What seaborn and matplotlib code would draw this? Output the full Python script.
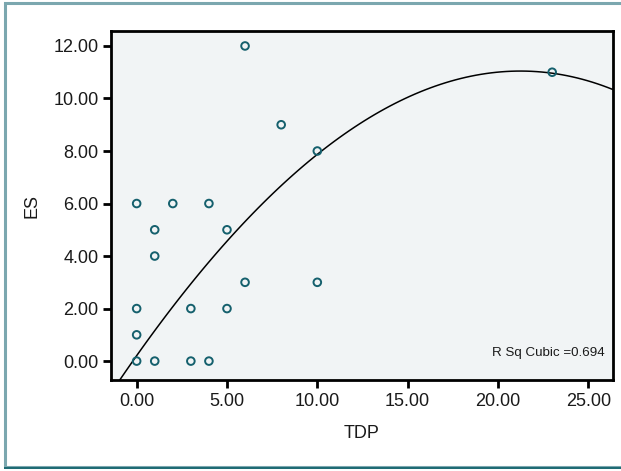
import numpy as np
import pandas as pd
import seaborn as sns
import matplotlib
matplotlib.use("Agg")
import matplotlib.pyplot as plt
from matplotlib.patches import Rectangle

# Scatter data
tdp = [0, 1, 1, 2, 4, 5, 6, 8, 10, 23, 6, 10, 3, 5, 0, 0, 0, 1, 3, 4]
es = [6, 5, 4, 6, 6, 5, 12, 9, 8, 11, 3, 3, 2, 2, 2, 1, 0, 0, 0, 0]
# Cubic fit line readings (TDP, ES) taken off the reference curve
fit_tdp = [-0.87, 0.0, 5.78, 6.68, 10.0, 15.7, 16.8, 21.4, 26.5]
fit_es = [-0.60, 0.16, 5.12, 5.75, 7.97, 10.24, 10.55, 11.0, 10.32]
x_ticks = [0, 5, 10, 15, 20, 25]
y_ticks = [0, 2, 4, 6, 8, 10, 12]
annotation = "R Sq Cubic =0.694"

df = pd.DataFrame({"TDP": tdp, "ES": es})
fit_df = pd.DataFrame({"TDP": fit_tdp, "ES": fit_es})

sns.set_style("white")
plt.rcParams["font.family"] = ["Liberation Sans", "DejaVu Sans"]

fig = plt.figure(figsize=(6.21, 4.71), dpi=100)
ax = fig.add_axes([111 / 621, 1 - 380 / 471, (612.7 - 111) / 621, (380 - 31) / 471])
ax.set_facecolor("#F1F4F5")

ax.set_xlim(-1.42, 26.35)
ax.set_ylim(-0.72, 12.57)

# cubic fit line (order-3 regression through the curve readings)
sns.regplot(data=fit_df, x="TDP", y="ES", order=3, ci=None, truncate=False, ax=ax,
            scatter=False, line_kws=dict(color="black", linewidth=1.1))
# observed points
sns.scatterplot(data=df, x="TDP", y="ES", ax=ax, s=30, facecolors="none",
                edgecolor="#15606D", linewidth=1.4, zorder=3)

ax.set_xlim(-1.42, 26.35)
ax.set_ylim(-0.72, 12.57)
ax.set_xticks(x_ticks)
ax.set_xticklabels([f"{v:.2f}" for v in x_ticks])
ax.set_yticks(y_ticks)
ax.set_yticklabels([f"{v:.2f}" for v in y_ticks])
ax.tick_params(axis="both", direction="out", length=6, width=2, color="black",
               labelsize=13, labelcolor="#1a1a1a", pad=3, bottom=True, left=True)
for s in ax.spines.values():
    s.set_visible(True)
    s.set_color("black")
    s.set_linewidth(2)

ax.set_xlabel("TDP", fontsize=13, color="#1a1a1a", labelpad=11)
ax.set_ylabel("ES", fontsize=13, color="#1a1a1a", labelpad=9)

ax.text(0.983, 0.077, annotation, transform=ax.transAxes, ha="right", va="center",
        fontsize=9.6, color="#1a1a1a")

# outer frame
fig.patches.append(Rectangle((4.5 / 621, 4 / 471), (640) / 621, (466.5 - 4) / 471 + 0.004,
                             transform=fig.transFigure, fill=False,
                             edgecolor="#7BA7AF", linewidth=2.2, zorder=-1))
fig.patches.append(Rectangle((4 / 621, 2 / 471), 1.0, 2 / 471,
                             transform=fig.transFigure, fill=True,
                             facecolor="#1F6B74", edgecolor="none", zorder=0))

fig.savefig("out.png", dpi=100)
